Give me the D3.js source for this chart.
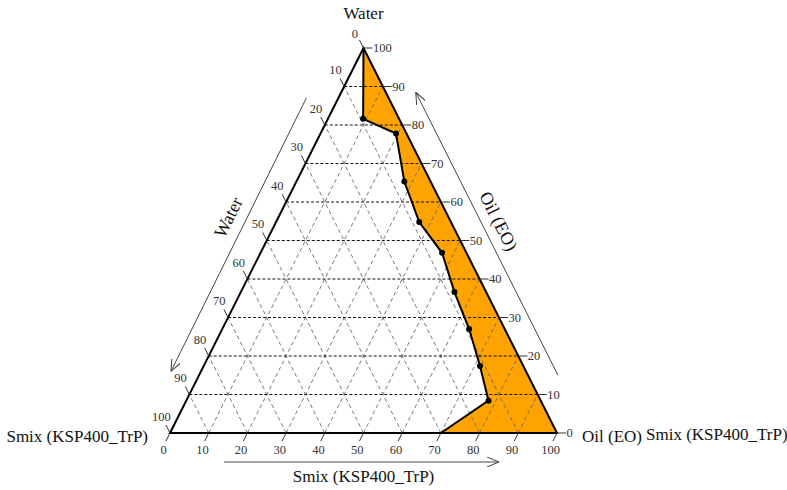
<!DOCTYPE html>
<html>
<head>
<meta charset="utf-8">
<script src="https://cdn.jsdelivr.net/npm/d3@7/dist/d3.min.js"></script>
<style>
  html, body { margin: 0; padding: 0; background: #fff; }
  svg { display: block; }
  text { font-family: "Liberation Serif", "Times New Roman", serif; }
</style>
</head>
<body>
<svg id="chart" width="787" height="490"></svg>
<script>
// Ternary phase diagram: Water (top), Oil (EO) (right), Smix (KSP400_TrP) (left)
const tickValues = [0, 10, 20, 30, 40, 50, 60, 70, 80, 90, 100];
const gridValues = [10, 20, 30, 40, 50, 60, 70, 80, 90];

// Phase boundary points (percent of top component / right component)
const boundaryTop   = [81.6, 77.8, 65.3, 54.8, 46.8, 36.6, 27.0, 17.4, 8.4];
const boundaryRight = [9.1, 19.5, 27.9, 37.0, 46.9, 55.2, 63.8, 71.4, 78.1];
// Region closes at the top apex, and at 70 on the base, then the right corner
const regionStart = { top: 100, right: 0 };
const regionBaseEnd = { top: 0, right: 70 };
const regionCorner = { top: 0, right: 100 };

const vertexTop = "Water";
const vertexRight = "Oil (EO)";
const vertexRightExtra = "Smix (KSP400_TrP)";
const vertexLeft = "Smix (KSP400_TrP)";
const titleLeft = "Water";
const titleRight = "Oil (EO)";
const titleBottom = "Smix (KSP400_TrP)";

const svg = d3.select("#chart");
const FONT = "'Liberation Serif', 'Times New Roman', serif";

// Scales: base position (right component) and height (top component)
const xBase = d3.scaleLinear().domain([0, 100]).range([170, 557]);
const yTop = d3.scaleLinear().domain([0, 100]).range([433, 48]);
const W = xBase(100) - xBase(0);

// top, right in percent -> pixel
function proj(top, right) {
  return [xBase(0) + W * (right + top / 2) / 100, yTop(top)];
}

// Edge direction vectors
const H = yTop(0) - yTop(100);
const len = Math.hypot(W / 2, H);
const dirLeftEdgeDown = [-(W / 2) / len, H / len];   // down-left, parallel to left edge
const dirRightEdgeUp = [-(W / 2) / len, -H / len];   // up-left, parallel to right edge

const gTri = svg.append("g");

// Orange region
const regionPts = [regionStart]
  .concat(boundaryTop.map((t, i) => ({ top: t, right: boundaryRight[i] })))
  .concat([regionBaseEnd, regionCorner]);
gTri.append("path")
  .attr("d", d3.line()(regionPts.map(p => proj(p.top, p.right))) + "Z")
  .attr("fill", "#FFA300")
  .attr("stroke", "none");

// Diagonal grid lines (gray dashed)
const gGrid = gTri.append("g");
gridValues.forEach(v => {
  // constant right component: parallel to left edge
  const a = proj(0, v), b = proj(100 - v, v);
  gGrid.append("line")
    .attr("x1", a[0]).attr("y1", a[1]).attr("x2", b[0]).attr("y2", b[1])
    .attr("stroke", "#6a6a6a").attr("stroke-width", 0.9).attr("stroke-dasharray", "4,3");
  // constant left component: parallel to right edge
  const c = proj(0, 100 - v), d = proj(100 - v, 0);
  gGrid.append("line")
    .attr("x1", c[0]).attr("y1", c[1]).attr("x2", d[0]).attr("y2", d[1])
    .attr("stroke", "#6a6a6a").attr("stroke-width", 0.9).attr("stroke-dasharray", "4,3");
});
// Horizontal grid lines (black dashed)
gridValues.forEach(v => {
  const a = proj(v, 0), b = proj(v, 100 - v);
  gGrid.append("line")
    .attr("x1", a[0]).attr("y1", a[1]).attr("x2", b[0]).attr("y2", b[1])
    .attr("stroke", "#111").attr("stroke-width", 1).attr("stroke-dasharray", "3,2");
});

// Triangle outline
const apex = proj(100, 0), bl = proj(0, 0), br = proj(0, 100);
gTri.append("path")
  .attr("d", d3.line()([apex, bl, br]) + "Z")
  .attr("fill", "none").attr("stroke", "#000").attr("stroke-width", 2)
  .attr("stroke-linejoin", "miter");

// Boundary line and points
const bPts = [regionStart]
  .concat(boundaryTop.map((t, i) => ({ top: t, right: boundaryRight[i] })))
  .concat([regionBaseEnd]);
gTri.append("path")
  .attr("d", d3.line()(bPts.map(p => proj(p.top, p.right))))
  .attr("fill", "none").attr("stroke", "#000").attr("stroke-width", 2);
gTri.selectAll("circle.pt")
  .data(boundaryTop.map((t, i) => proj(t, boundaryRight[i])))
  .join("circle")
  .attr("class", "pt")
  .attr("cx", d => d[0]).attr("cy", d => d[1]).attr("r", 3)
  .attr("fill", "#000");

// Ticks and labels
const tickLen = 9;
const labelStyle = sel => sel.attr("font-size", 12.5).attr("font-family", FONT).attr("fill", "#333");
const gTicks = svg.append("g");

// Right axis: top component, 0 at bottom-right to 100 at apex
tickValues.forEach(v => {
  const p = proj(v, 100 - v);
  gTicks.append("line")
    .attr("x1", p[0]).attr("y1", p[1]).attr("x2", p[0] + tickLen).attr("y2", p[1])
    .attr("stroke", "#333").attr("stroke-width", 1);
  gTicks.append("text").call(labelStyle)
    .attr("x", p[0] + tickLen + 0.5).attr("y", p[1] + 4)
    .attr("text-anchor", "start").text(v);
});

// Left axis: left component, 0 at apex to 100 at bottom-left
tickValues.forEach(v => {
  const p = proj(100 - v, 0);
  const e = [p[0] + dirRightEdgeUp[0] * tickLen, p[1] + dirRightEdgeUp[1] * tickLen];
  gTicks.append("line")
    .attr("x1", p[0]).attr("y1", p[1]).attr("x2", e[0]).attr("y2", e[1])
    .attr("stroke", "#333").attr("stroke-width", 1);
  gTicks.append("text").call(labelStyle)
    .attr("x", p[0] + dirRightEdgeUp[0] * 15 - 2).attr("y", p[1] + dirRightEdgeUp[1] * 15 + (v === 0 ? 3 : 1))
    .attr("text-anchor", "middle").text(v);
});

// Bottom axis: right component, 0 at bottom-left to 100 at bottom-right
tickValues.forEach(v => {
  const p = proj(0, v);
  const e = [p[0] + dirLeftEdgeDown[0] * tickLen, p[1] + dirLeftEdgeDown[1] * tickLen];
  gTicks.append("line")
    .attr("x1", p[0]).attr("y1", p[1]).attr("x2", e[0]).attr("y2", e[1])
    .attr("stroke", "#333").attr("stroke-width", 1);
  gTicks.append("text").call(labelStyle)
    .attr("x", p[0] + dirLeftEdgeDown[0] * 14).attr("y", p[1] + dirLeftEdgeDown[1] * 14 + 8)
    .attr("text-anchor", "middle").text(v);
});

// Vertex labels
const vStyle = sel => sel.attr("font-size", 17).attr("font-family", FONT).attr("fill", "#111");
svg.append("text").call(vStyle)
  .attr("x", apex[0]).attr("y", 19).attr("text-anchor", "middle").text(vertexTop);
svg.append("text").call(vStyle)
  .attr("x", bl[0] - 22).attr("y", bl[1] + 9).attr("text-anchor", "end").text(vertexLeft);
svg.append("text").call(vStyle)
  .attr("x", br[0] + 25).attr("y", br[1] + 9).attr("text-anchor", "start").text(vertexRight);
svg.append("text").call(vStyle)
  .attr("x", br[0] + 89).attr("y", br[1] + 7).attr("text-anchor", "start").text(vertexRightExtra);

// Arrow marker (open chevron)
const defs = svg.append("defs");
defs.append("marker")
  .attr("id", "arrow")
  .attr("viewBox", "0 0 12 10")
  .attr("refX", 12).attr("refY", 5)
  .attr("markerWidth", 12).attr("markerHeight", 10)
  .attr("markerUnits", "userSpaceOnUse")
  .attr("orient", "auto")
  .append("path")
  .attr("d", "M0,0 L12,5 L0,10")
  .attr("fill", "none").attr("stroke", "#444").attr("stroke-width", 1);

const gTitles = svg.append("g");
const angle = Math.atan2(H, W / 2) * 180 / Math.PI; // edge angle from horizontal

// Left axis arrow (pointing down toward bottom-left) and title
const la = proj(100 - 14, 0), lb = proj(100 - 84, 0);
gTitles.append("line")
  .attr("x1", la[0] - 30).attr("y1", la[1] - 4)
  .attr("x2", lb[0] - 30).attr("y2", lb[1])
  .attr("stroke", "#444").attr("stroke-width", 1)
  .attr("marker-end", "url(#arrow)");
const lt = proj(56, 0);
gTitles.append("text").call(vStyle)
  .attr("font-size", 18)
  .attr("dominant-baseline", "central")
  .attr("transform", `translate(${lt[0] - 50},${lt[1]}) rotate(${-angle})`)
  .attr("text-anchor", "middle").text(titleLeft);

// Right axis arrow (pointing up toward apex) and title
const ra = proj(15, 85), rb = proj(88.5, 11.5);
gTitles.append("line")
  .attr("x1", ra[0] + 30).attr("y1", ra[1])
  .attr("x2", rb[0] + 30).attr("y2", rb[1])
  .attr("stroke", "#444").attr("stroke-width", 1)
  .attr("marker-end", "url(#arrow)");
const rt = proj(55, 45);
gTitles.append("text").call(vStyle)
  .attr("font-size", 18)
  .attr("dominant-baseline", "central")
  .attr("transform", `translate(${rt[0] + 48},${rt[1]}) rotate(${angle})`)
  .attr("text-anchor", "middle").text(titleRight);

// Bottom axis arrow (pointing right) and title
gTitles.append("line")
  .attr("x1", xBase(14)).attr("y1", 462)
  .attr("x2", xBase(85)).attr("y2", 462)
  .attr("stroke", "#444").attr("stroke-width", 1)
  .attr("marker-end", "url(#arrow)");
gTitles.append("text").call(vStyle)
  .attr("x", xBase(50)).attr("y", 482)
  .attr("text-anchor", "middle").text(titleBottom);
</script>
</body>
</html>
